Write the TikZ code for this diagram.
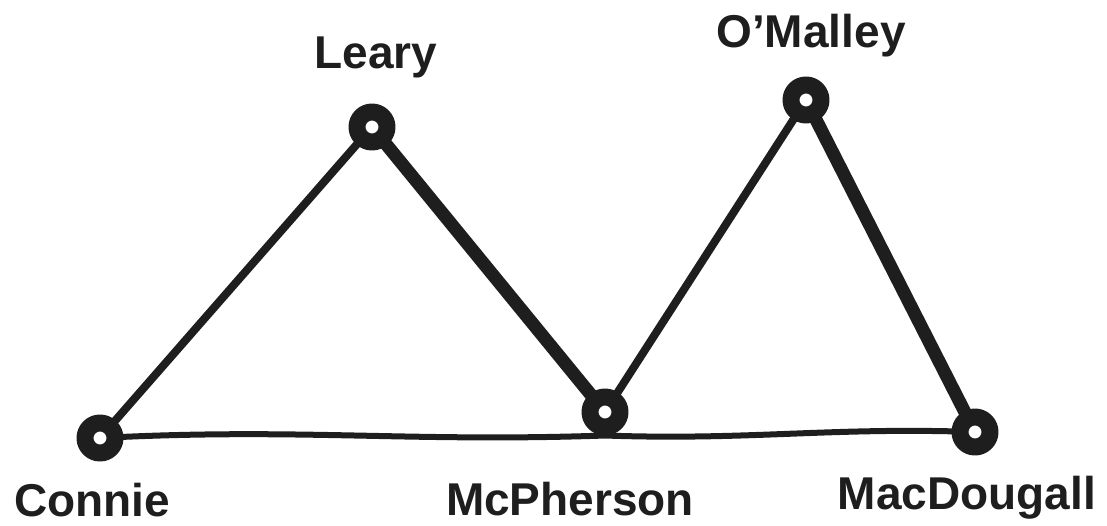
\documentclass[tikz,border=0pt]{standalone}
\usepackage{fontspec}
\setmainfont{Liberation Sans}
\usepackage{xcolor}
\usepackage{tikz}
\usetikzlibrary{positioning, backgrounds}

\definecolor{ink}{RGB}{30,30,30}

\begin{document}
\begin{tikzpicture}[x=1pt, y=-1pt, line cap=round, line join=round,
        person/.style={circle, draw=ink, fill=white, line width=17pt, minimum size=30pt, inner sep=0pt},
        nametag/.style={font=\fontsize{46}{52}\selectfont\bfseries, text=ink, inner sep=0pt},
        tie/.style={draw=ink, line width=8pt},
        strongtie/.style={draw=ink, line width=13pt}]
        \useasboundingbox (0,0) rectangle (1107,525);

        \node[person] (connie) at (100,438) {};
        \node[person] (leary)  at (372,127) {};
        \node[person] (mcp)    at (605,412) {};
        \node[person] (omal)   at (806,100) {};
        \node[person] (macd)   at (975,432) {};

        \begin{pgfonlayer}{background}
        \path[tie] (connie.center) -- (leary.center);
        \path[strongtie] (leary.center) -- (mcp.center);
        \path[tie] (mcp.center) -- (omal.center);
        \path[strongtie] (omal.center) -- (macd.center);
        \path[draw=ink, line width=6pt]
        (connie.center) to[out=3, in=182] (mcp.south)
        (mcp.south) to[out=-2, in=178] (macd.center);
        \end{pgfonlayer}

        \node[nametag] (lbl1) at (92,500)  {Connie};
        \node[nametag] (lbl2) at (376,57)  {Leary};
        \node[nametag] (lbl3) at (570,499) {McPherson};
        \node[nametag] (lbl4) at (811,36)  {O'Malley};
        \node[nametag] (lbl5) at (967,498) {MacDougall};
\end{tikzpicture}
\end{document}
